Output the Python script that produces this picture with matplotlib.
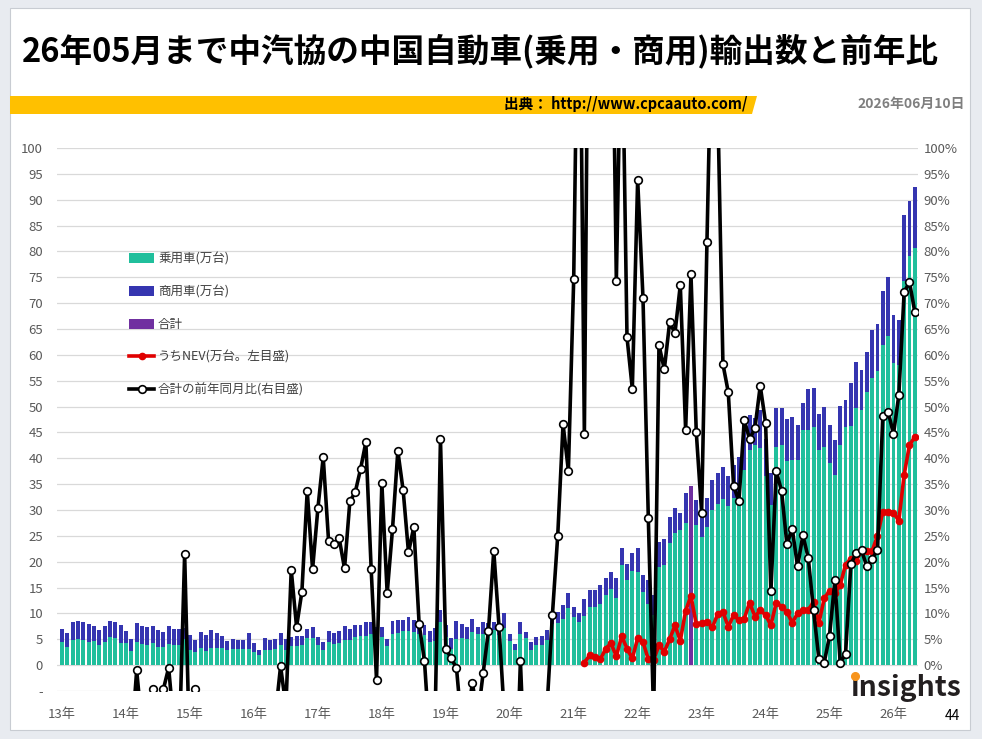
import matplotlib
matplotlib.use("Agg")
import matplotlib.pyplot as plt
from matplotlib.patches import Rectangle, Polygon
from matplotlib.lines import Line2D
import numpy as np
import pandas as pd

plt.rcParams['font.family'] = ['Noto Sans CJK JP', 'DejaVu Sans']

#--------------------------------
# data (万台), monthly Jan 2013 - May 2026
months = pd.date_range('2013-01-01', '2026-05-01', freq='MS')

passenger = (
    [4.4, 3.6, 4.8, 5.0, 4.8, 4.5, 4.6, 3.8, 4.4, 5.5, 5.2, 4.3]            # 2013
    + [4.2, 2.7, 4.5, 4.1, 3.8, 4.3, 3.6, 3.6, 4.0, 3.9, 3.8, 5.1]          # 2014
    + [3.0, 2.6, 3.4, 2.8, 3.3, 3.3, 3.3, 2.9, 3.1, 3.1, 3.1, 3.1]          # 2015
    + [2.5, 1.9, 3.0, 3.0, 3.2, 3.9, 3.0, 3.7, 3.7, 3.8, 5.2, 5.3]          # 2016
    + [3.9, 2.9, 4.5, 4.1, 4.2, 4.8, 4.8, 5.5, 5.7, 5.7, 6.0, 5.8]          # 2017
    + [5.4, 3.7, 6.1, 6.3, 6.6, 6.6, 6.5, 6.1, 5.8, 4.5, 4.7, 8.4]          # 2018
    + [5.4, 3.2, 5.1, 5.2, 5.0, 6.5, 6.0, 6.0, 6.5, 6.8, 5.8, 7.1]          # 2019
    + [4.7, 2.9, 6.1, 5.2, 2.9, 3.9, 3.9, 4.8, 7.9, 8.1, 9.0, 11.0]         # 2020
    + [9.4, 8.4, 9.5, 11.2, 11.2, 11.9, 13.5, 14.8, 13.0, 19.4, 16.5, 18.2] # 2021
    + [18.1, 14.2, 11.9, 9.7, 19.0, 19.4, 23.7, 25.5, 26.1, 27.5, 28.0, 27.1]
    + [24.7, 26.8, 30.0, 31.2, 32.1, 30.8, 32.3, 32.6, 37.7, 41.6, 42.6, 41.9]
    + [36.5, 31.0, 42.1, 42.6, 39.4, 39.7, 39.7, 45.5, 45.4, 46.1, 41.6, 42.1]
    + [39.0, 36.8, 42.6, 46.1, 46.3, 49.7, 49.4, 52.9, 55.5, 56.8, 61.9, 63.7]
    + [58.4, 58.1, 74.2, 79.2, 80.6]                                        # 2026
)

commercial = (
    [2.5, 2.7, 3.5, 3.6, 3.5, 3.4, 2.9, 3.0, 3.1, 3.1, 3.2, 3.4]
    + [2.4, 2.3, 3.7, 3.4, 3.5, 3.3, 3.1, 2.9, 3.5, 3.0, 3.2, 2.1]
    + [2.8, 2.2, 3.0, 3.1, 3.4, 2.9, 2.4, 1.8, 2.0, 1.7, 1.8, 3.1]
    + [1.7, 1.1, 2.3, 1.9, 1.9, 2.3, 2.1, 1.8, 1.9, 1.8, 1.8, 2.1]
    + [1.6, 1.6, 2.1, 2.2, 2.4, 2.7, 2.2, 2.2, 2.0, 2.6, 2.3, 1.6]
    + [2.0, 1.3, 2.4, 2.5, 2.2, 2.8, 2.3, 2.2, 2.0, 2.1, 2.4, 2.2]
    + [2.3, 2.0, 3.4, 2.7, 2.3, 2.5, 1.4, 2.3, 1.6, 1.6, 2.4, 2.9]
    + [1.4, 1.1, 2.3, 1.3, 1.6, 1.6, 1.8, 2.0, 1.8, 2.2, 2.6, 2.9]
    + [1.9, 1.6, 3.2, 3.3, 3.3, 3.6, 3.3, 3.3, 3.8, 3.2, 3.0, 3.5]
    + [4.5, 3.2, 4.6, 3.8, 4.9, 4.9, 4.9, 4.8, 3.4, 5.7, 6.6, 4.8]
    + [5.2, 5.5, 5.8, 5.9, 6.3, 5.7, 6.4, 7.7, 10.0, 6.8, 5.1, 7.5]
    + [7.2, 6.1, 7.6, 7.1, 8.1, 8.2, 6.8, 5.1, 8.0, 7.4, 7.0, 7.8]
    + [7.5, 6.7, 7.5, 5.2, 8.2, 8.9, 7.7, 7.7, 9.3, 9.2, 10.5, 11.3]
    + [9.3, 8.7, 12.9, 10.6, 11.9]
)

# 合計 column is only shown for one month in the source chart
gokei_month = '2022-11'
gokei_value = 34.6

# うちNEV, from 2021-03
nev_start = '2021-03'
nev = [0.5, 1.9, 1.6, 1.1, 3.2, 4.2, 1.7, 5.6, 3.2, 1.3,
       5.2, 4.5, 1.1, 1.0, 3.9, 2.6, 5.0, 7.7, 4.7, 10.5, 13.4, 7.9,
       8.1, 8.4, 7.3, 9.8, 10.3, 7.4, 9.7, 8.7, 9.0, 12.1, 9.4, 10.6,
       9.7, 7.7, 12.1, 11.3, 10.3, 8.2, 10.0, 10.6, 10.6, 12.3, 8.1, 12.9,
       14.4, 13.9, 15.5, 19.4, 20.6, 20.2, 22.1, 22.1, 22.1, 25.0, 29.7, 29.7,
       29.5, 27.9, 36.8, 42.6, 44.1]

# 合計の前年同月比 (%), from 2014-01 (values off the scale are estimates)
yoy_start = '2014-01'
yoy = [-8, -15, -1.0, -12, -10, -4.7, -9, -4.7, -0.5, -12, -15, 21.5,
       -20, -4.7, -15, -20, -18, -25, -20, -22, -18, -25, -20, -30,
       -25, -30, -20, -22, -10, -0.2, -8, 18.4, 7.4, 14.2, 33.7, 18.5,
       30.3, 40.2, 24.1, 23.5, 24.5, 18.7, 31.7, 33.4, 37.9, 43.1, 18.5, -2.8,
       35.2, 13.9, 26.3, 41.4, 33.8, 21.8, 26.7, 7.9, 0.8, -15, -10, 43.7,
       3.2, 1.3, -0.5, -12, -10, -3.5, -10, -1.6, 6.6, 22.1, 7.3, -10,
       -15, -30, 0.8, -25, -50, -20, -15, -8, 9.7, 25.0, 46.6, 37.6,
       74.7, 150, 44.6, 170, 200, 130, 180, 150, 74.3, 130, 63.4, 53.4,
       93.9, 71.0, 28.4, -10, 61.9, 57.2, 66.3, 64.2, 73.5, 45.5, 75.6, 45.0,
       29.5, 81.8, 130, 110, 58.2, 52.8, 34.6, 31.7, 47.4, 43.7, 45.8, 54.0,
       46.9, 14.3, 37.5, 33.7, 23.4, 26.4, 19.1, 25.1, 20.8, 10.6, 1.2, 0.5,
       5.6, 16.4, 0.5, 2.1, 19.5, 21.7, 22.2, 19.1, 20.6, 22.2, 48.2, 49.0,
       44.7, 52.2, 72.1, 74.1, 68.3]

year_labels = ['13年', '14年', '15年', '16年', '17年', '18年', '19年',
               '20年', '21年', '22年', '23年', '24年', '25年', '26年']

#--------------------------------
# series on the month axis
ym = months.strftime('%Y-%m')
x = np.arange(len(months))
pas = np.array(passenger)
com = np.array(commercial)

gokei = pd.Series(np.nan, index=ym)
gokei[gokei_month] = gokei_value

nev_s = pd.Series(np.nan, index=ym)
i0 = list(ym).index(nev_start)
nev_s.iloc[i0:i0 + len(nev)] = nev

yoy_s = pd.Series(np.nan, index=ym)
j0 = list(ym).index(yoy_start)
yoy_s.iloc[j0:j0 + len(yoy)] = yoy

#--------------------------------
fig = plt.figure(figsize=(9.82, 7.39), dpi=100)
fig.patch.set_facecolor('#E8EBF0')
fig.patches.append(Rectangle((10 / 982, 1 - 730 / 739), 960 / 982, 722 / 739,
                             transform=fig.transFigure, facecolor='white',
                             edgecolor='#C8CCD2', lw=0.8, zorder=-10))

# title and header band
fig.text(22 / 982, 1 - 51 / 739, '26年05月まで中汽協の中国自動車(乗用・商用)輸出数と前年比',
         fontsize=23.5, fontweight='bold', color='black', va='center', ha='left')
fig.patches.append(Polygon([(10 / 982, 1 - 114 / 739), (10 / 982, 1 - 96 / 739),
                            (757 / 982, 1 - 96 / 739), (752 / 982, 1 - 114 / 739)],
                           closed=True, transform=fig.transFigure,
                           facecolor='#FFC000', edgecolor='none', zorder=-5))
fig.text(748 / 982, 1 - 104 / 739, '出典： http://www.cpcaauto.com/',
         fontsize=10.5, fontweight='bold', color='black', va='center', ha='right')
fig.text(965 / 982, 1 - 104 / 739, '2026年06月10日',
         fontsize=10, fontweight='bold', color='#7F7F7F', va='center', ha='right')

ax = fig.add_axes([57 / 982, 1 - 691 / 739, 861 / 982, 543 / 739])
ax.set_facecolor('none')
ax2 = ax.twinx()

w = 0.74
b1 = ax.bar(x, pas, width=w, color='#20BF9C', label='乗用車(万台)', zorder=2)
b2 = ax.bar(x, com, width=w, bottom=pas, color='#3535B0', label='商用車(万台)', zorder=2)
b3 = ax.bar(x, gokei.values, width=w, color='#7030A0', label='合計', zorder=3)
l1, = ax.plot(x, nev_s.values, color='#E00000', lw=2.6, marker='o', ms=4.5,
              mec='#E00000', mfc='#E00000', label='うちNEV(万台。左目盛)', zorder=4)
l2, = ax2.plot(x, yoy_s.values, color='black', lw=2.6, marker='o', ms=5.5,
               mec='black', mfc='white', mew=1.2, label='合計の前年同月比(右目盛)', zorder=5)

ax.set_xlim(-0.95, len(months) - 0.4)
ax.set_ylim(-5, 100)
ax2.set_ylim(-5, 100)

ticks = np.arange(-5, 101, 5)
ax.set_yticks(ticks)
ax.set_yticklabels(['-' if t < 0 else str(t) for t in ticks])
ax2.set_yticks(ticks)
ax2.set_yticklabels(['' if t < 0 else f'{t}%' for t in ticks])
ax.grid(axis='y', color='#D9D9D9', lw=0.9, zorder=0)
ax.set_axisbelow(True)

ax.set_xticks(x[months.month == 1])
ax.set_xticklabels(year_labels)

for a in (ax, ax2):
    for s in a.spines.values():
        s.set_visible(False)
    a.tick_params(length=0, labelsize=9.5, labelcolor='#595959')
ax.tick_params(axis='y', pad=10)
ax.tick_params(axis='x', pad=12)
ax2.tick_params(axis='y', pad=4)

leg = ax.legend(handles=[b1, b2, b3, l1, l2], loc='upper left',
                bbox_to_anchor=(123 / 982, 1 - 246 / 739), bbox_transform=fig.transFigure,
                frameon=False, fontsize=9, labelspacing=1.58, handlelength=2.0,
                handletextpad=0.3, borderpad=0, handleheight=0.9)
for t in leg.get_texts():
    t.set_color('#404040')

# logo and page number
fig.text(850 / 982, 1 - 688 / 739, 'insights', fontsize=20.5, fontweight='bold',
         color='#231F20', va='center', ha='left', zorder=10,
         bbox=dict(facecolor='white', edgecolor='none', pad=1))
fig.lines.append(Line2D([855 / 982], [1 - 676 / 739], marker='o', ms=5.5,
                        color='#F7941D', transform=fig.transFigure, zorder=11))
fig.text(952 / 982, 1 - 716 / 739, '44', fontsize=10, color='black',
         va='center', ha='center')

fig.savefig('out.png', dpi=100)
